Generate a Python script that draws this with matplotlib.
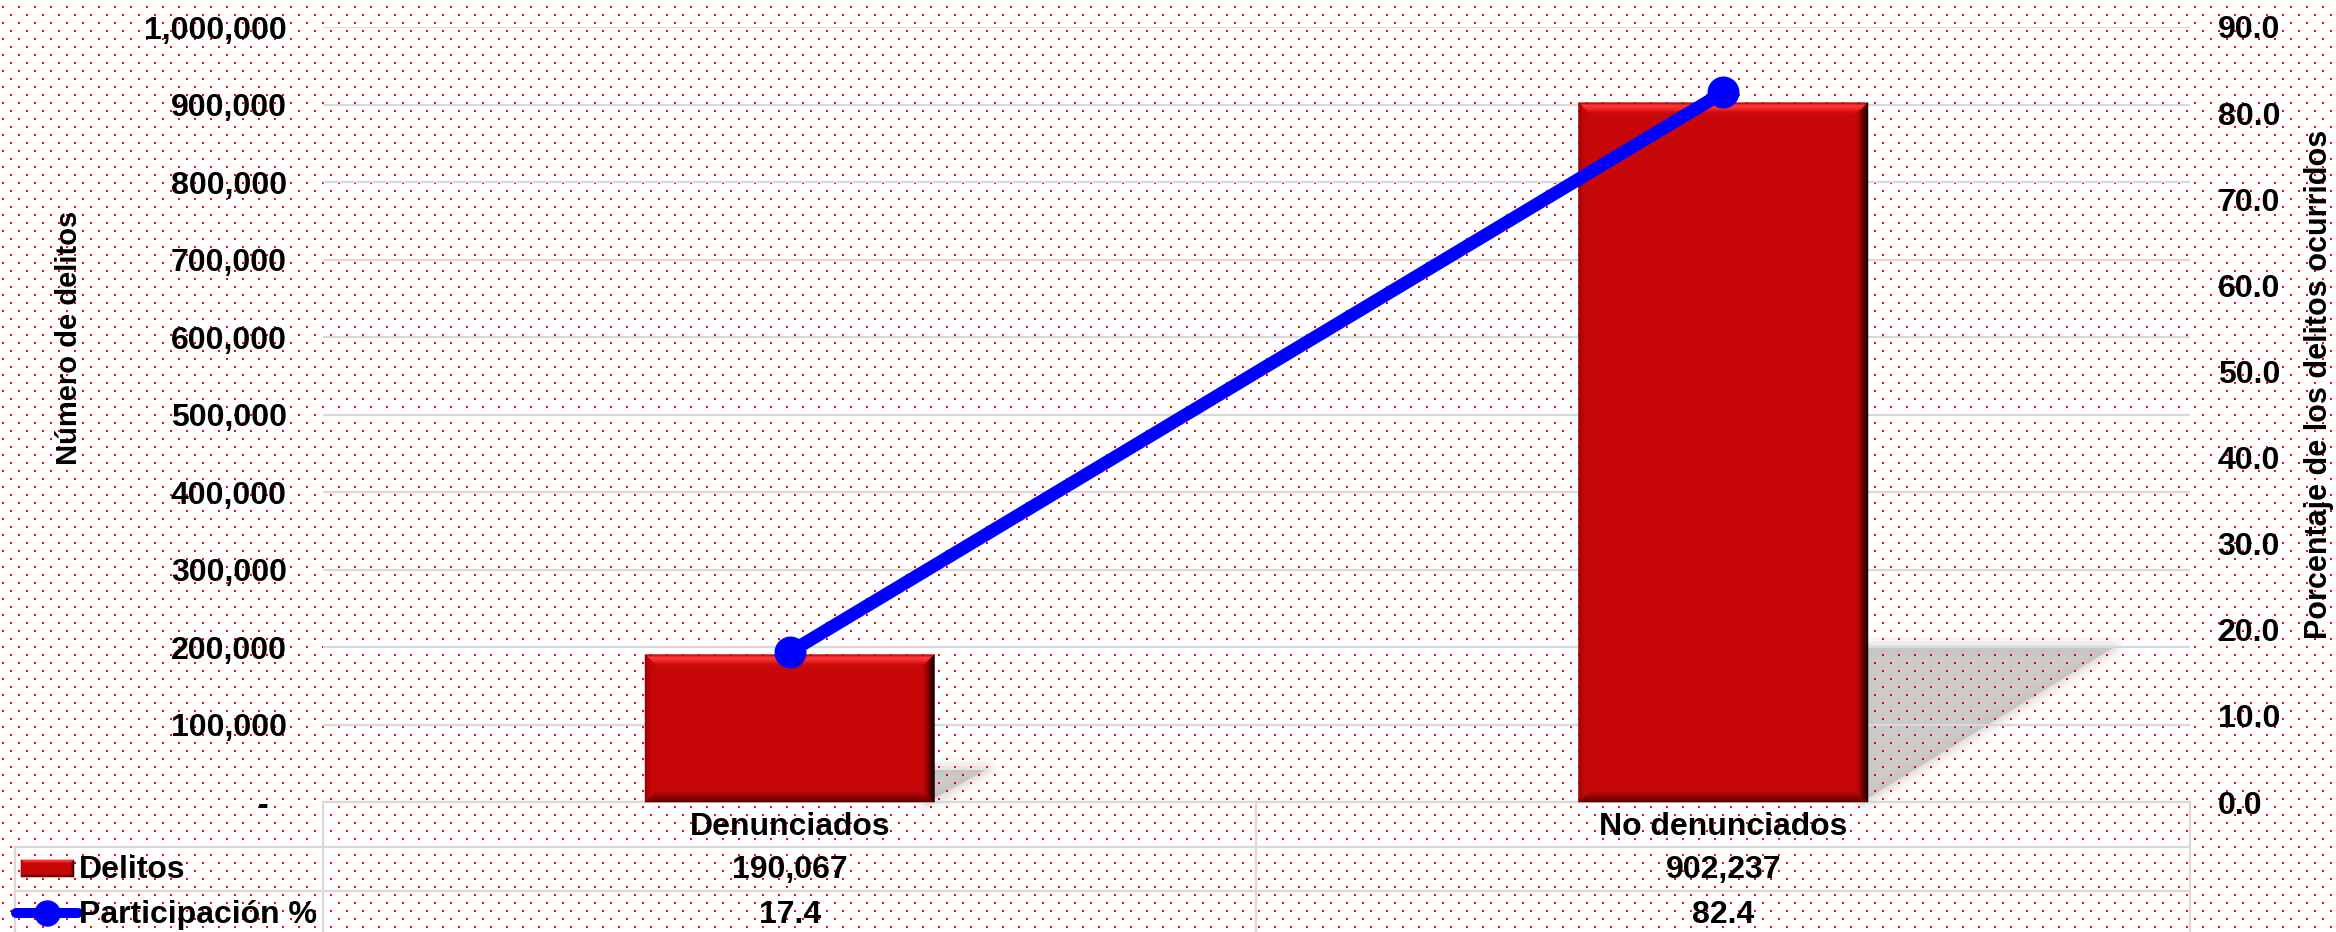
import numpy as np
import matplotlib
matplotlib.use('Agg')
import matplotlib.pyplot as plt
from matplotlib.patches import Polygon, Rectangle
from matplotlib.lines import Line2D
from matplotlib.transforms import IdentityTransform
from matplotlib.colors import LinearSegmentedColormap
from matplotlib.ticker import FuncFormatter, MultipleLocator

categories = ['Denunciados', 'No denunciados']
delitos = [190067, 902237]
participacion = [17.4, 82.4]
delitos_labels = ['190,067', '902,237']
participacion_labels = ['17.4', '82.4']
series_names = ['Delitos', 'Participación %']

W, H = 2336, 932
RED = '#C80808'
BLUE = '#0000FF'
GRID = '#D9D9D9'

plt.rcParams['font.family'] = ['Liberation Sans', 'DejaVu Sans']
plt.rcParams['font.weight'] = 'bold'

bevel_maps = {
    'top': LinearSegmentedColormap.from_list('t', ['#A00000', '#FF3A3A', '#FF2A2A', '#D41010', RED]),
    'right': LinearSegmentedColormap.from_list('r', ['#100000', '#4A0000', '#980404', RED]),
    'bottom': LinearSegmentedColormap.from_list('b', ['#5A0000', '#800000', '#A80606', RED]),
    'left': LinearSegmentedColormap.from_list('l', ['#900000', '#B80606', RED, RED]),
}


def py(y):
    # pixel row counted from the top -> figure pixels counted from the bottom
    return H - y


def bevel(target, x0, y0, x1, y1, b, z, transform):
    k = 10
    for i in range(k):
        d0 = b * i / k
        d1 = b * (i + 1) / k
        t = (i + 0.5) / k
        polys = {
            'top': [(x0 + d0, y1 - d0), (x1 - d0, y1 - d0), (x1 - d1, y1 - d1), (x0 + d1, y1 - d1)],
            'bottom': [(x0 + d0, y0 + d0), (x1 - d0, y0 + d0), (x1 - d1, y0 + d1), (x0 + d1, y0 + d1)],
            'left': [(x0 + d0, y0 + d0), (x0 + d0, y1 - d0), (x0 + d1, y1 - d1), (x0 + d1, y0 + d1)],
            'right': [(x1 - d0, y0 + d0), (x1 - d0, y1 - d0), (x1 - d1, y1 - d1), (x1 - d1, y0 + d1)],
        }
        for side, pts in polys.items():
            c = bevel_maps[side](t)
            target.add_patch(Polygon(pts, closed=True, facecolor=c, edgecolor=c, lw=0.4,
                                     transform=transform, clip_on=False, zorder=z))


fig = plt.figure(figsize=(W / 100, H / 100), dpi=100, facecolor='white')

# background layer in pixel units
bg = fig.add_axes([0, 0, 1, 1], zorder=0)
bg.axis('off')

dots = np.zeros((H, W, 4))
rows = np.arange(H)[:, None]
cols = np.arange(W)[None, :]
m1 = ((rows % 16) // 2 == 3) & ((cols % 16) // 2 == 1)
m2 = ((rows % 16) // 2 == 7) & ((cols % 16) // 2 == 5)
dots[m1 | m2] = [1, 0, 0, 1]
bg.imshow(dots, extent=(0, W, 0, H), origin='upper', interpolation='nearest',
          aspect='auto', zorder=2)

# main chart
ax = fig.add_axes([323 / W, (H - 802) / H, (2190 - 323) / W, (802 - 27) / H], zorder=1)
ax.patch.set_visible(False)
x = np.arange(len(categories))
ax.set_xlim(-0.5, 1.5)
ax.set_ylim(0, 1000000)
bars = ax.bar(x, delitos, width=0.31, color=RED, zorder=3)
ax.yaxis.set_major_locator(MultipleLocator(100000))
ax.yaxis.set_major_formatter(FuncFormatter(lambda v, p: '' if v == 0 else f'{v:,.0f}'))
ax.grid(axis='y', color=GRID, lw=1.6)
ax.set_axisbelow(True)
ax.set_xticks([])
ax.tick_params(axis='y', length=0, pad=26, labelsize=23)
for s in ax.spines.values():
    s.set_visible(False)
ax.annotate('-', xy=(0, 0), xycoords=('axes fraction', 'data'), xytext=(-55, 0),
            textcoords='offset pixels', ha='right', va='center_baseline', fontsize=23,
            annotation_clip=False)

ax2 = ax.twinx()
ax2.set_zorder(2)
ax2.patch.set_visible(False)
ax2.set_ylim(0, 90)
ax2.yaxis.set_major_locator(MultipleLocator(10))
ax2.yaxis.set_major_formatter(FuncFormatter(lambda v, p: f'{v:.1f}'))
ax2.tick_params(axis='y', length=0, pad=20, labelsize=23)
for s in ax2.spines.values():
    s.set_visible(False)
ax2.plot(x, participacion, color=BLUE, lw=9.4, marker='o', ms=22,
         solid_capstyle='round', zorder=5)

# bar shadows and bevels
for bar in bars:
    bb = bar.get_window_extent()
    R, y0, h = bb.x1, bb.y0, bb.height
    tri = [(R - 6, y0), (R - 6, y0 + 0.22 * h), (R + 0.35 * h, y0 + 0.22 * h)]
    bg.add_patch(Polygon(tri, closed=True, facecolor='#CBCBCB', edgecolor='none', zorder=1))
    for lw, a in [(16, 0.10), (10, 0.15), (5, 0.2)]:
        bg.add_patch(Polygon(tri, closed=True, facecolor='none', edgecolor='#BDBDBD',
                             lw=lw, alpha=a, joinstyle='round', zorder=1.1))
    bevel(ax, bb.x0, bb.y0, bb.x1, bb.y1, 12, 4, IdentityTransform())

# data table under the chart
for xs, ys in [([323, 2190], [802, 802]), ([15, 2190], [847, 847]), ([15, 2190], [891, 891]),
               ([15, 15], [847, 932]), ([323, 323], [802, 932]), ([1256, 1256], [802, 932]),
               ([2190, 2190], [802, 932])]:
    bg.add_line(Line2D(xs, [py(v) for v in ys], color=GRID, lw=1.6, zorder=3))

xt = ax.get_xaxis_transform()
for i in range(len(categories)):
    ax.text(x[i], -(835 - 802) / 775, categories[i], transform=xt, ha='center',
            va='baseline', fontsize=23, clip_on=False)
    ax.text(x[i], -(878 - 802) / 775, delitos_labels[i], transform=xt, ha='center',
            va='baseline', fontsize=23, clip_on=False)
    ax.text(x[i], -(923 - 802) / 775, participacion_labels[i], transform=xt, ha='center',
            va='baseline', fontsize=23, clip_on=False)

# legend keys in the table
bg.add_patch(Rectangle((21, py(877)), 53, 17, facecolor=RED, edgecolor='none', zorder=3))
bevel(bg, 21, py(877), 74, py(860), 4, 3.1, bg.transData)
bg.add_line(Line2D([16, 78], [py(913), py(913)], color=BLUE, lw=7.2,
                   solid_capstyle='round', zorder=3))
bg.add_line(Line2D([47], [py(913)], color=BLUE, marker='o', ms=18, lw=0, zorder=3.1))
bg.text(79, py(878), series_names[0], ha='left', va='baseline', fontsize=23, zorder=4)
bg.text(79, py(923), series_names[1], ha='left', va='baseline', fontsize=23, zorder=4)

fig.text(69 / W, (H - 338) / H, 'Número de delitos', rotation=90, ha='center',
         va='center', fontsize=21)
fig.text(2319 / W, (H - 384) / H, 'Porcentaje de los delitos ocurridos', rotation=90,
         ha='center', va='center', fontsize=22)

bg.set_xlim(0, W)
bg.set_ylim(0, H)

fig.savefig('out.png', dpi=100, facecolor='white')
